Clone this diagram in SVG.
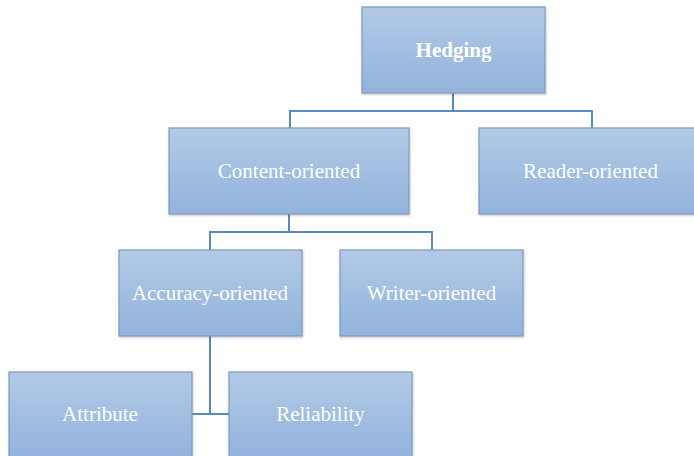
<svg xmlns="http://www.w3.org/2000/svg" width="694" height="456" viewBox="0 0 694 456">
<defs>
<linearGradient id="g" x1="0" y1="0" x2="0" y2="1">
<stop offset="0" stop-color="#b2cae6"/>
<stop offset="1" stop-color="#92b3dc"/>
</linearGradient>
<filter id="sh" x="-5%" y="-5%" width="110%" height="115%">
<feDropShadow dx="0.6" dy="1" stdDeviation="0.8" flood-color="#000" flood-opacity="0.25"/>
</filter>
</defs>
<style>
.box{fill:url(#g);stroke:#7f9bbd;stroke-width:1.2;filter:url(#sh)}
.t{font-family:"Liberation Serif","Times New Roman",serif;font-size:21px;fill:#ffffff;text-anchor:middle}
.b{font-weight:bold}
.c{fill:none;stroke:#5a8ac3;stroke-width:2}
</style>
<rect width="694" height="456" fill="#ffffff"/>
<g id="connectors">
<path class="c" d="M453 93V111M290 128V111H592V128"/>
<path class="c" d="M289 214V232M210 250V232H432V250"/>
<path class="c" d="M210 336V414M192 414H229"/>
</g>
<g id="hedging"><rect class="box" x="362" y="7" width="183" height="86"/><text class="t b" x="453.5" y="57">Hedging</text></g>
<g id="content"><rect class="box" x="169" y="128" width="240" height="86"/><text class="t" x="289" y="178">Content-oriented</text></g>
<g id="reader"><rect class="box" x="479" y="128" width="225" height="86"/><text class="t" x="590.5" y="178">Reader-oriented</text></g>
<g id="accuracy"><rect class="box" x="119" y="250" width="183" height="86"/><text class="t" x="210" y="300">Accuracy-oriented</text></g>
<g id="writer"><rect class="box" x="340" y="250" width="183" height="86"/><text class="t" x="431.5" y="300">Writer-oriented</text></g>
<g id="attribute"><rect class="box" x="9" y="372" width="183" height="86"/><text class="t" x="100" y="421">Attribute</text></g>
<g id="reliability"><rect class="box" x="229" y="372" width="183" height="86"/><text class="t" x="320.5" y="421">Reliability</text></g>
</svg>
